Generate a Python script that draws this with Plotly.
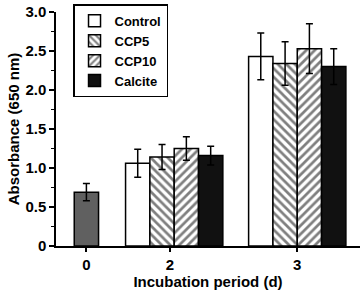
import plotly.graph_objects as go

# ---- data ----
periods = ["0", "2", "3"]
series_names = ["Control", "CCP5", "CCP10", "Calcite"]
day0_value = [0.69]
day0_err = [0.11]
control = [1.06, 2.43]
control_err = [0.18, 0.30]
ccp5 = [1.14, 2.34]
ccp5_err = [0.16, 0.28]
ccp10 = [1.25, 2.53]
ccp10_err = [0.15, 0.32]
calcite = [1.16, 2.30]
calcite_err = [0.12, 0.23]

# ---- layout helpers (axis units: one bar width = 1) ----
group_pos = [1.25, 4.86, 9.92]      # centres of the groups for days 0, 2, 3
tick_pos = [1.25, 4.68, 9.92]       # tick marks as drawn in the original
x_range = [0, 12.5]

styles = [
    dict(color="white", pattern=None),
    dict(color="white", pattern=dict(shape="\\", fgcolor="black", bgcolor="white", size=6, solidity=0.45)),
    dict(color="white", pattern=dict(shape="/", fgcolor="black", bgcolor="white", size=6, solidity=0.45)),
    dict(color="#111111", pattern=None),
]

font_family = "Liberation Sans, Arial, sans-serif"
err_style = dict(type="data", color="black", thickness=1.5, width=3.5, visible=True)

fig = go.Figure()

# Day 0 bar
fig.add_trace(go.Bar(
    x=[group_pos[0]], y=day0_value, width=1,
    marker=dict(color="#606060", line=dict(color="black", width=1.5)),
    error_y=dict(array=day0_err, **err_style),
    showlegend=False,
))

values = [control, ccp5, ccp10, calcite]
errors = [control_err, ccp5_err, ccp10_err, calcite_err]
n = len(series_names)
for i, (name, vals, errs, st) in enumerate(zip(series_names, values, errors, styles)):
    offset = i - (n - 1) / 2
    xs = [g + offset for g in group_pos[1:]]
    marker = dict(color=st["color"], line=dict(color="black", width=1.5))
    if st["pattern"] is not None:
        marker["pattern"] = st["pattern"]
    fig.add_trace(go.Bar(
        x=xs, y=vals, width=1, name=name,
        marker=marker,
        error_y=dict(array=errs, **err_style),
    ))

fig.update_layout(
    width=363, height=294,
    margin=dict(l=56, r=3, t=12, b=48, autoexpand=False),
    plot_bgcolor="white", paper_bgcolor="white",
    barmode="overlay",
    font=dict(family=font_family, size=14, color="black", weight="bold"),
    legend=dict(
        x=0.056, y=0.985, xanchor="left", yanchor="top", yref="container",
        bordercolor="black", borderwidth=1.5, bgcolor="white",
        font=dict(size=13, weight="bold"),
        tracegroupgap=0, itemwidth=30,
    ),
    xaxis=dict(
        range=x_range, tickmode="array", tickvals=tick_pos, ticktext=periods,
        showline=True, linecolor="black", linewidth=1.5,
        ticks="outside", ticklen=4, tickwidth=1.5, tickcolor="black",
        showgrid=False, zeroline=False, automargin=False,
        title=dict(text="Incubation period (d)", standoff=0, font=dict(size=15, weight="bold")),
        tickfont=dict(size=15, weight="bold"),
    ),
    yaxis=dict(
        range=[0, 3.0], tickmode="array",
        tickvals=[0, 0.5, 1.0, 1.5, 2.0, 2.5, 3.0],
        ticktext=["0", "0.5", "1.0", "1.5", "2.0", "2.5", "3.0"],
        showline=True, linecolor="black", linewidth=1.5,
        ticks="outside", ticklen=5, tickwidth=1.5, tickcolor="black",
        minor=dict(tickvals=[0.25, 0.75, 1.25, 1.75, 2.25, 2.75], ticks="outside", ticklen=3, tickwidth=1.2, tickcolor="black"),
        showgrid=False, zeroline=False, automargin=False,
        title=dict(text="Absorbance (650 nm)", standoff=2, font=dict(size=15, weight="bold")),
        tickfont=dict(size=15, weight="bold"),
    ),
)

fig.write_html(
    "out.html",
    config={"displayModeBar": False},
    post_script="document.body.style.margin='0';document.body.style.padding='0';",
)
